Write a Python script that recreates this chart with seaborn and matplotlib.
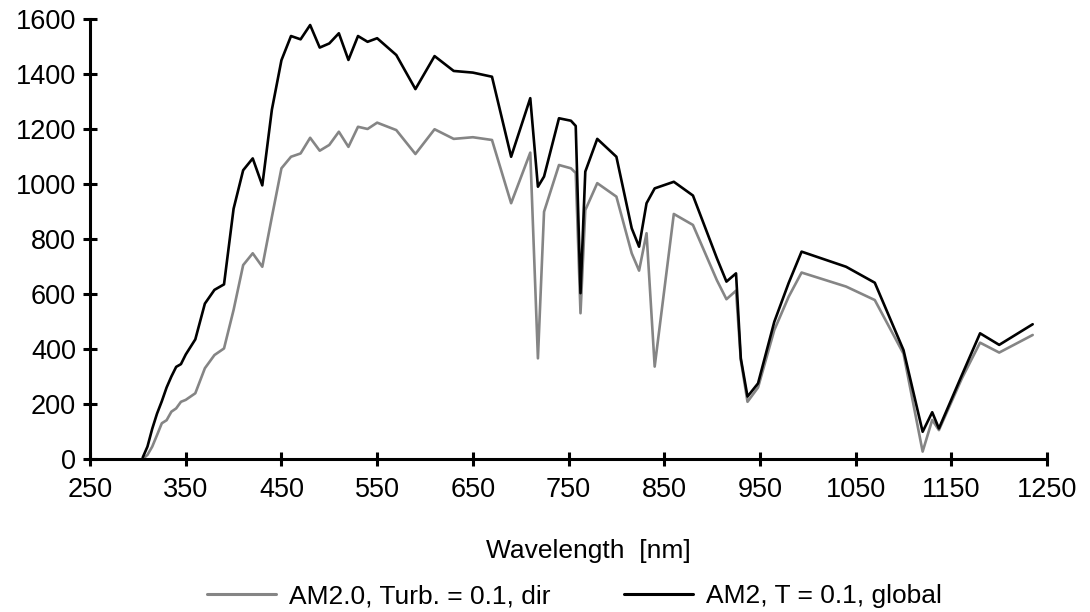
import matplotlib
matplotlib.use("Agg")
import matplotlib.pyplot as plt
import seaborn as sns
import pandas as pd
from matplotlib.lines import Line2D

wavelength = [305, 310, 315, 320, 325, 330, 335, 340, 345, 350, 360, 370, 380, 390, 400,
              410, 420, 430, 440, 450, 460, 470, 480, 490, 500, 510, 520, 530, 540, 550,
              570, 590, 610, 630, 650, 670, 690, 710, 718, 724.4, 740, 752.5, 757.5, 762.5,
              767.5, 780, 800, 816, 823.7, 831.5, 840, 860, 880, 905, 915, 925, 930, 937,
              948, 965, 980, 993.5, 1040, 1070, 1100, 1120, 1130, 1137, 1161, 1180, 1200, 1235]

direct = [0, 15, 45, 87, 130, 141, 172, 184, 208, 215, 239, 330, 378, 402, 542,
          705, 748, 699, 880, 1057, 1099, 1111, 1168, 1121, 1142, 1190, 1135, 1208, 1200, 1223,
          1196, 1109, 1199, 1164, 1170, 1160, 930, 1114, 366, 899, 1069, 1057, 1040, 530,
          905, 1003, 954, 748, 685, 821, 336, 891, 851, 650, 581, 612, 360, 208,
          260, 469, 590, 678, 627, 578, 383, 27, 142, 105, 293, 423, 387, 451]

globl = [5, 45, 110, 165, 210, 260, 300, 335, 345, 380, 435, 565, 615, 635, 910,
         1050, 1093, 995, 1270, 1450, 1538, 1526, 1578, 1496, 1511, 1548, 1451, 1538, 1517, 1530,
         1469, 1345, 1465, 1411, 1405, 1390, 1099, 1312, 990, 1027, 1239, 1230, 1211, 603,
         1045, 1164, 1099, 839, 772, 930, 984, 1008, 958, 730, 645, 675, 366, 227,
         275, 499, 640, 754, 699, 641, 396, 99, 170, 111, 305, 457, 415, 490]

labels = ["AM2.0, Turb. = 0.1, dir", "AM2, T = 0.1, global"]
colors = ["#858585", "#000000"]

df = pd.concat([
    pd.DataFrame({"wl": wavelength, "val": direct, "series": labels[0]}),
    pd.DataFrame({"wl": wavelength, "val": globl, "series": labels[1]}),
])

sns.set_style("white")
plt.rcParams["font.family"] = ["Liberation Sans", "DejaVu Sans"]
plt.rcParams["text.color"] = "black"

fig = plt.figure(figsize=(10.9, 6.12), dpi=100)
ax = fig.add_axes([0.0826, 0.25, 0.878, 0.719])

sns.lineplot(data=df, x="wl", y="val", hue="series", palette=dict(zip(labels, colors)),
             hue_order=labels, linewidth=1.9, ax=ax, legend=False, sort=False)

ax.set_xlim(250, 1250)
ax.set_ylim(0, 1600)
ax.set_xticks(range(250, 1251, 100))
ax.set_yticks(range(0, 1601, 200))
for s in ["top", "right"]:
    ax.spines[s].set_visible(False)
for s in ["left", "bottom"]:
    ax.spines[s].set_linewidth(2.2)
    ax.spines[s].set_color("black")
ax.tick_params(axis="both", which="major", bottom=True, left=True, direction="inout",
               length=10, width=2.2, labelsize=19.5, color="black", labelcolor="black")
ax.tick_params(axis="y", pad=5)
ax.tick_params(axis="x", pad=8)
ax.set_xlabel("Wavelength  [nm]", fontsize=19, labelpad=26, color="black")
ax.xaxis.label.set_x(0.521)
ax.set_ylabel("")

handles = [Line2D([], [], color=c, linewidth=2.2) for c in colors]
fig.legend(handles, labels, loc="center", bbox_to_anchor=(0.527, 0.026), ncol=2,
           frameon=False, fontsize=19, handlelength=2.6, handletextpad=0.5,
           columnspacing=2.8, labelcolor="black")

fig.savefig("out.png", dpi=100)
